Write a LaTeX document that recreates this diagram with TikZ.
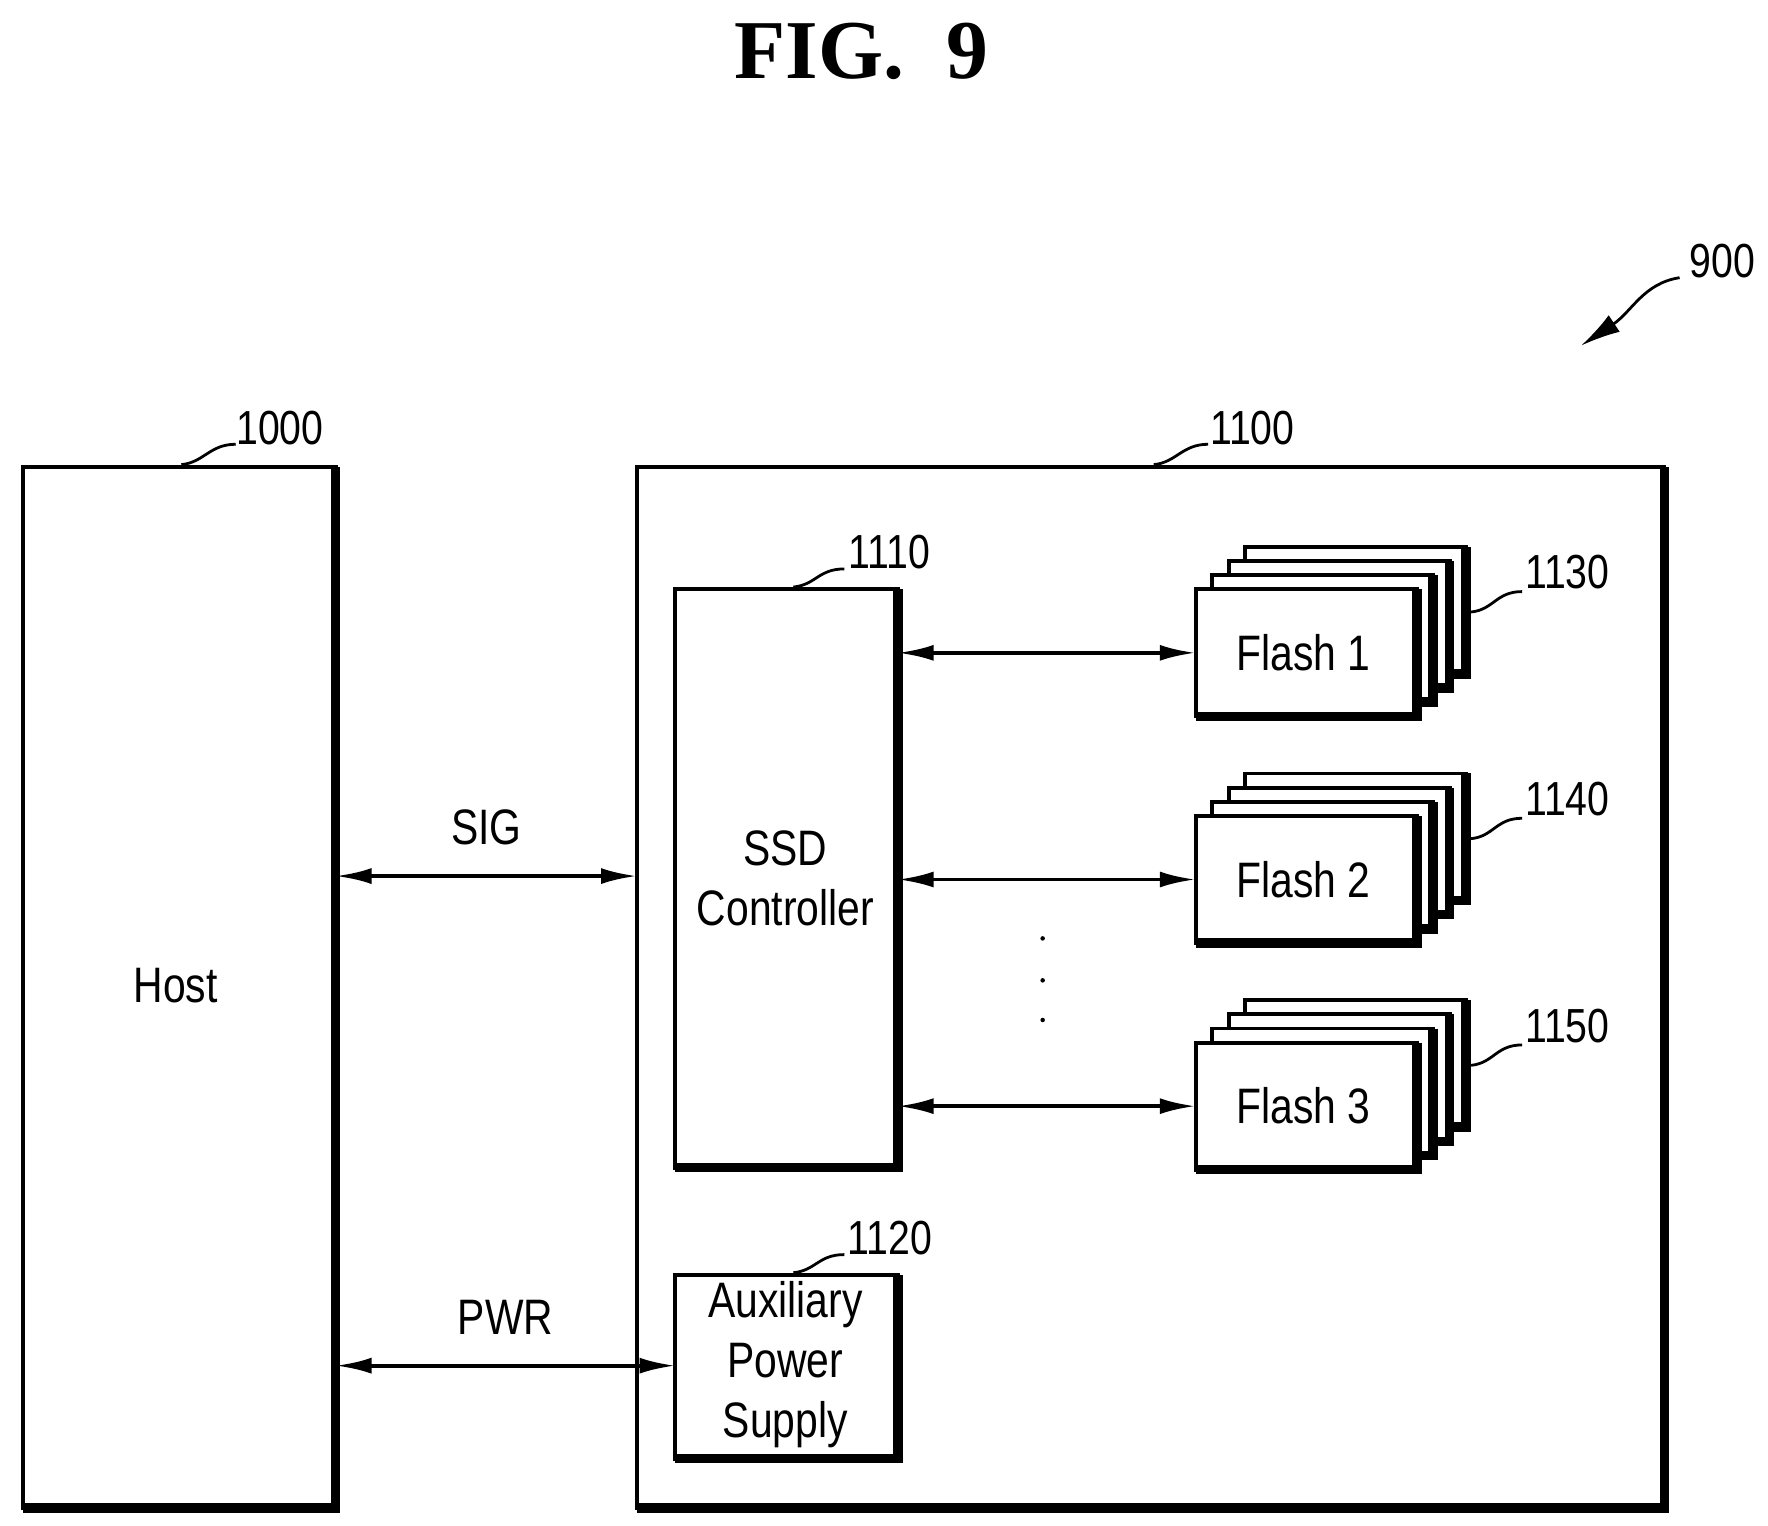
\documentclass[tikz,border=0pt]{standalone}
\usepackage{fontspec}
\setmainfont{Liberation Sans}[FakeStretch=0.82]
\newfontfamily\titlefont{Liberation Serif}
\usetikzlibrary{arrows.meta}
\begin{document}
\begin{tikzpicture}[x=0.01cm,y=-0.01cm,
  box/.style={draw,line width=1pt,fill=white,inner sep=0pt,outer sep=0pt},
  sh/.style={line width=2.4pt},
  lbl/.style={font=\fontsize{12.5}{15}\selectfont},
  num/.style={font=\fontsize{12}{14}\selectfont},
  lead/.style={line width=0.7pt},
  bi/.style={line width=1pt,{Latex[length=9pt,width=4pt]}-{Latex[length=9pt,width=4pt]}}]
\useasboundingbox (0,0) rectangle (1560,1346);
\node[font=\titlefont\bfseries\fontsize{21}{24}\selectfont] (title) at (760,45) {FIG.\ \ 9};
% 900
\node[num] (n900) at (1520,230) {900};
\draw[lead,-{Latex[length=10pt,width=5pt]}] (1482,245) .. controls (1450,250) and (1440,275) .. (1395,305);
% host
\node[box,minimum width=2.76cm,minimum height=9.18cm,anchor=north west] (host) at (20,412) {};
\draw[sh] (host.north east) -- (host.south east) -- (host.south west);
\node[lbl] at (155,870) {Host};
\node[num] (n1000) at (247,378) {1000};
\draw[lead] (160,410) .. controls (180,408) and (185,392) .. (208,392);
% ssd box
\node[box,minimum width=9.06cm,minimum height=9.18cm,anchor=north west] (ssd) at (562,412) {};
\draw[sh] (ssd.north east) -- (ssd.south east) -- (ssd.south west);
\node[num] (n1100) at (1105,378) {1100};
\draw[lead] (1018,410) .. controls (1038,408) and (1043,392) .. (1066,392);
% controller
\node[box,minimum width=1.96cm,minimum height=5.1cm,anchor=north west] (ctrl) at (596,520) {};
\draw[sh] (ctrl.north east) -- (ctrl.south east) -- (ctrl.south west);
\node[lbl,align=center] at (693,775) {SSD\\Controller};
\node[num] (n1110) at (785,487) {1110};
\draw[lead] (700,518) .. controls (720,516) and (722,502) .. (745,502);
% aux
\node[box,minimum width=1.96cm,minimum height=1.62cm,anchor=north west] (aux) at (596,1125) {};
\draw[sh] (aux.north east) -- (aux.south east) -- (aux.south west);
\node[lbl,align=center] at (693,1204) {Auxiliary\\Power\\Supply};
\node[num] (n1120) at (785,1092) {1120};
\draw[lead] (700,1123) .. controls (720,1121) and (722,1107) .. (745,1107);
% flash stacks
\foreach \y/\t/\n in {520/1/1130,720/2/1140,920/3/1150}{
  \foreach \k in {3,2,1,0}{
    \node[box,minimum width=1.95cm,minimum height=1.12cm,anchor=north west] (f\t\k) at ({1055+14.5*\k},{\y-12.5*\k}) {};
    \draw[sh] (f\t\k.north east) -- (f\t\k.south east) -- (f\t\k.south west);
  }
  \node[lbl] at (1150,{\y+56}) {Flash \t};
  \node[num] (n\n) at (1383,{\y-15}) {\n};
  \draw[lead] (1298,{\y+20}) .. controls (1318,{\y+18}) and (1320,{\y+2}) .. (1343,{\y+2});
}
\draw[bi] (ctrl.east |- f10.west) -- (f10.west);
\draw[bi] (ctrl.east |- f20.west) -- (f20.west);
\draw[bi] (ctrl.east |- f30.west) -- (f30.west);
\foreach \yy in {828,865,900} \fill (920,\yy) circle (2);
% SIG / PWR
\coordinate (sigL) at (296,773);
\draw[bi] (host.east |- sigL) -- (ssd.west |- sigL) node[midway,above=4pt,lbl] {SIG};
\coordinate (pwrL) at (296,1205);
\draw[bi] (host.east |- pwrL) -- (aux.west |- pwrL) node[midway,above=4pt,lbl] {PWR};
\end{tikzpicture}
\end{document}
